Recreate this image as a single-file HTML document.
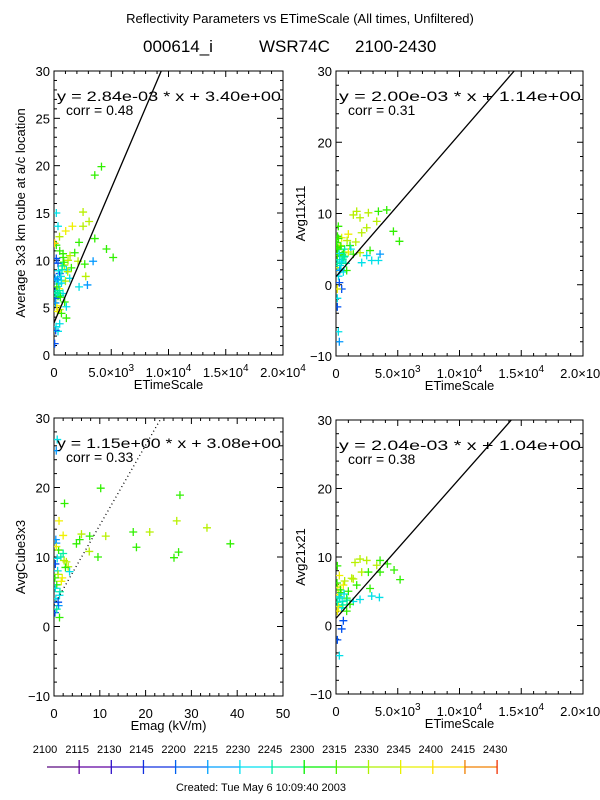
<!DOCTYPE html>
<html><head><meta charset="utf-8"><style>
html,body{margin:0;padding:0;background:#fff}
svg{display:block;font-family:"Liberation Sans",sans-serif}
</style></head><body>
<svg id="chart" width="600" height="800" viewBox="0 0 600 800">
<text x="300" y="23" text-anchor="middle" font-size="13">Reflectivity Parameters vs ETimeScale (All times, Unfiltered)</text>
<text x="143" y="52" font-size="17">000614_i</text>
<text x="259" y="52" font-size="17">WSR74C</text>
<text x="355" y="52" font-size="17">2100-2430</text>
<text x="261" y="791" text-anchor="middle" font-size="11">Created: Tue May  6 10:09:40 2003</text>
</svg>
<script>
// colour palette index: 0 blue,1 light-blue,2 cyan,3 teal-green,4 green,5 yellow-green,6 yellow,7 orange
const pointColors = ["#0050f0","#0098ff","#00e0e8","#00f0a0","#30f000","#b8f000","#f0f000","#ffc800"];
const timeLabels = ["2100","2115","2130","2145","2200","2215","2230","2245","2300","2315","2330","2345","2400","2415","2430"];
const timeColors = ["#5a0a80","#6000a0","#3010c8","#1030e0","#0060f0","#00a0ff","#00e0f0","#00f0a0","#00f000","#50f000","#b0f000","#e8f000","#ffe000","#f08000","#f03000"];

// Panel 1: ETimeScale vs Average 3x3
const p1x = [4146,3562,4584,5168,3562,3416,2920,2540,3066,2540,2190,1606,1022,788,1810,2102,2686,2774,2190,1372,1080,1080,496,350,204,350,204,58,350,496,204,350,788,58,146,496,934,1518,1080,642,1226,300,600,900,450,150,700,250,1200,400,800,100,550,1000,650,320,180,1400,850,500,100,250,450,650,120,380,560,720,200,90,300,480];
const p1y = [19.9,19.0,11.2,10.3,12.3,9.9,7.4,15.1,14.1,13.6,11.9,13.6,13.1,10.7,10.8,9.9,9.6,8.3,7.2,8.1,5.1,3.9,3.3,2.5,15.0,13.6,11.6,11.8,9.7,8.6,7.9,6.2,6.5,1.2,2.6,4.8,5.6,9.2,9.0,7.9,10.0,6.6,8.3,9.5,7.0,6.0,9.0,5.2,8.8,7.5,10.3,6.8,6.3,7.8,4.4,8.0,3.0,10.5,9.8,11.0,6.5,7.2,6.8,7.6,5.5,8.9,6.1,9.4,10.2,8.1,4.6,12.5];
const p1c = [4,4,4,4,4,1,1,5,5,5,4,6,6,4,4,5,4,5,2,2,2,4,2,2,2,2,4,7,0,0,2,4,2,0,0,6,4,4,2,2,5,3,2,5,6,0,3,6,5,2,4,0,3,5,4,1,2,5,4,4,3,4,3,2,1,2,4,3,0,1,6,5];

// Panel 2: ETimeScale vs Avg11x11
const p2x = [4108,3433,4649,5136,1676,1405,1946,2622,2487,2081,3298,2757,3433,2892,2081,3568,1946,1000,460,324,1135,189,108,324,595,865,270,460,108,108,189,270,108,108,595,1405,2487,54,700,300,900,500,1200,200,800,400,1600,650,150,1000,100,250,400,550,120,300,700,200,80,450];
const p2y = [10.5,10.3,7.5,6.1,10.3,9.8,9.4,10.1,8.0,7.3,8.9,4.8,3.4,3.4,3.1,4.3,4.5,7.1,6.6,5.5,5.5,8.2,4.1,2.7,1.8,2.0,0.3,-0.6,-1.9,-3.1,-6.6,-8.0,-0.6,2.4,4.5,4.3,4.1,5.9,5.0,3.5,6.2,4.2,5.0,6.5,3.0,2.2,6.0,3.9,5.2,4.6,3.0,4.4,5.4,3.6,6.8,2.0,4.0,1.2,5.0,3.2];
const p2c = [4,4,4,4,5,5,5,5,5,5,5,4,2,2,2,1,5,6,6,6,4,4,4,2,2,4,0,0,2,0,2,1,6,6,4,4,2,4,3,2,5,4,2,4,3,2,5,3,4,6,3,2,4,3,4,1,3,2,4,2];

// Panel 3: Emag vs AvgCube3x3
const p3x = [10.2,2.3,27.5,26.8,33.4,38.5,17.3,20.9,11.3,18.0,27.2,26.2,9.6,7.7,7.8,6.0,5.6,4.9,1.1,2.0,0.7,0.5,2.7,3.1,3.4,1.2,0.5,1.0,1.5,0.3,0.8,1.8,2.2,0.6,1.3,0.4,1.0,2.5,0.2,1.6,0.9,0.5,1.2,2.0,0.3,0.6,0.9,0.4,0.2,0.7];
const p3y = [19.9,17.7,18.9,15.2,14.2,11.9,13.6,13.6,13.0,11.4,10.7,9.9,10.0,10.8,13.0,13.3,12.5,11.9,15.2,13.1,26.9,25.3,9.3,8.6,7.9,1.3,12.0,11.0,10.0,9.0,8.0,7.0,9.5,6.0,5.0,4.0,3.0,8.5,2.0,6.5,7.5,11.5,4.5,10.5,5.5,2.5,3.5,12.5,7.0,9.8];
const p3c = [4,4,4,5,5,4,4,5,5,4,4,4,4,5,4,5,4,4,6,6,2,1,5,5,2,4,1,4,3,0,2,6,5,4,3,2,1,4,0,6,5,6,2,3,2,3,0,1,4,2];

// Panel 4: ETimeScale vs Avg21x21
const p4x = [5190,4703,4162,3568,3568,3298,2487,1946,1541,2081,2622,2757,3514,2892,1946,1405,865,1270,595,270,108,189,108,460,595,460,108,270,865,1676,1135,300,700,1000,500,200,1400,900,400,150,100,250,550,350,80,650];
const p4y = [6.7,8.1,9.0,7.8,9.5,8.8,9.5,9.7,9.2,7.8,7.8,5.4,4.1,4.3,3.8,3.5,4.0,6.9,5.9,7.3,8.7,4.5,2.1,2.6,0.7,-0.5,-2.1,-4.4,2.1,5.9,3.1,4.0,6.5,5.0,3.5,2.8,6.8,3.7,4.8,5.6,3.4,4.2,3.0,5.2,6.2,4.6];
const p4c = [4,4,4,4,4,5,5,5,5,5,4,4,2,2,2,2,4,5,6,6,4,6,6,2,0,0,0,2,4,4,4,3,5,4,2,6,5,3,4,6,3,2,3,4,4,2];

const fitSlopes = [2.84e-3, 2.00e-3, 1.15, 2.04e-3];
const fitIntercepts = [3.40, 1.14, 3.08, 1.04];
const fitLabels = ["y = 2.84e-03 * x  + 3.40e+00","y = 2.00e-03 * x  + 1.14e+00","y = 1.15e+00 * x  + 3.08e+00","y = 2.04e-03 * x  + 1.04e+00"];
const corrLabels = ["corr = 0.48","corr = 0.31","corr = 0.33","corr = 0.38"];
const etimeTicks = [0,5000,10000,15000,20000];
const emagTicks = [0,10,20,30,40,50];

const NS = "http://www.w3.org/2000/svg";
const svg = document.getElementById("chart");
function mk(tag, attrs, parent, text){
  const e = document.createElementNS(NS, tag);
  for (const k in attrs) e.setAttribute(k, attrs[k]);
  if (text !== undefined) e.textContent = text;
  (parent || svg).appendChild(e);
  return e;
}

const panels = [
  {L:54,R:283,T:71,B:355,xmax:20000,ymin:0,ymax:30,ymaj:5,ymin_:1,xmaj:5000,xmin_:1000,xs:p1x,ys:p1y,cs:p1c,ytitle:"Average 3x3 km cube at a/c location",ytx:20,xtitle:"ETimeScale",xt:etimeTicks,dotted:false,name:"avg3x3"},
  {L:336,R:583,T:71,B:356,xmax:20000,ymin:-10,ymax:30,ymaj:10,ymin_:2,xmaj:5000,xmin_:1000,xs:p2x,ys:p2y,cs:p2c,ytitle:"Avg11x11",ytx:300,xtitle:"ETimeScale",xt:etimeTicks,dotted:false,name:"avg11x11"},
  {L:54,R:283,T:418,B:696,xmax:50,ymin:-10,ymax:30,ymaj:10,ymin_:2,xmaj:10,xmin_:2,xs:p3x,ys:p3y,cs:p3c,ytitle:"AvgCube3x3",ytx:20,xtitle:"Emag (kV/m)",xt:emagTicks,dotted:true,name:"avgcube3x3"},
  {L:336,R:583,T:420,B:694,xmax:20000,ymin:-10,ymax:30,ymaj:10,ymin_:2,xmaj:5000,xmin_:1000,xs:p4x,ys:p4y,cs:p4c,ytitle:"Avg21x21",ytx:300,xtitle:"ETimeScale",xt:etimeTicks,dotted:false,name:"avg21x21"}
];

panels.forEach((p, pi) => {
  const g = mk("g", {});
  
  
  const sx = v => p.L + v / p.xmax * (p.R - p.L);
  const sy = v => p.B - (v - p.ymin) / (p.ymax - p.ymin) * (p.B - p.T);
  const frame = mk("rect", {x:p.L, y:p.T, width:p.R-p.L, height:p.B-p.T, fill:"none", stroke:"#000", "stroke-width":1}, g);
  
  
  for (let v = p.ymin; v <= p.ymax + 1e-9; v += p.ymin_) {
    const major = Math.abs(v % p.ymaj) < 1e-6;
    const len = major ? 6 : 3;
    const y = sy(v);
    mk("line", {x1:p.L, x2:p.L+len, y1:y, y2:y, stroke:"#000"}, g);
    mk("line", {x1:p.R, x2:p.R-len, y1:y, y2:y, stroke:"#000"}, g);
    if (major) {
      const t = mk("text", {x:p.L-4, y:y+5, "text-anchor":"end", "font-size":13}, g, String(Math.round(v)).replace("-","\u2212"));
      
      
    }
  }
  for (let v = 0; v <= p.xmax + 1e-9; v += p.xmin_) {
    const major = Math.abs(v % p.xmaj) < 1e-6;
    const len = major ? 6 : 3;
    const x = sx(v);
    mk("line", {x1:x, x2:x, y1:p.B, y2:p.B-len, stroke:"#000"}, g);
    mk("line", {x1:x, x2:x, y1:p.T, y2:p.T+len, stroke:"#000"}, g);
  }
  p.xt.forEach(v => {
    const x = sx(v);
    const t = mk("text", {x:x, y:p.B+22, "text-anchor":"middle", "font-size":13}, g);
    
    
    if (p.xmax === 50 || v === 0) { t.textContent = String(v); }
    else {
      const e = Math.floor(Math.log10(v)); const m = (v / Math.pow(10, e)).toFixed(1);
      mk("tspan", {}, t, m + "\u00d710");
      mk("tspan", {dy:-6, "font-size":10}, t, String(e));
    }
  });
  const xt = mk("text", {x:(p.L+p.R)/2, y:p.B+34, "text-anchor":"middle", "font-size":13}, g, p.xtitle);
  
  
  const cy = (p.T+p.B)/2;
  const yt = mk("text", {x:p.ytx, y:cy, "text-anchor":"middle", "font-size":13, transform:`rotate(-90 ${p.ytx} ${cy})`, dy:5}, g, p.ytitle);
  
  
  const clip = mk("clipPath", {id:"clip"+pi}, g);
  mk("rect", {x:p.L, y:p.T, width:p.R-p.L, height:p.B-p.T}, clip);
  const pg = mk("g", {"clip-path":`url(#clip${pi})`}, g);
  p.xs.forEach((xv, i) => {
    const x = sx(xv), y = sy(p.ys[i]);
    const m = mk("path", {d:`M${x-4} ${y}H${x+4}M${x} ${y-4}V${y+4}`, stroke:pointColors[p.cs[i]], "stroke-width":1.3, fill:"none"}, pg);
    
    
  });
  const s = fitSlopes[pi], b = fitIntercepts[pi];
  let x2 = p.xmax; if (s*x2 + b > p.ymax) x2 = (p.ymax - b) / s;
  const fl = mk("line", {x1:sx(0), y1:sy(b), x2:sx(x2), y2:sy(s*x2+b), stroke:"#000", "stroke-width":1.3, "stroke-dasharray":p.dotted?"1 3":"none"}, pg);
  
  
  const ft = mk("text", {x:p.L+3, y:p.T+30, "font-size":14, textLength:p.R-p.L-5, lengthAdjust:"spacingAndGlyphs"}, g, fitLabels[pi]);
  
  
  const ct = mk("text", {x:p.L+12, y:p.T+44, "font-size":14}, g, corrLabels[pi]);
  
  
});

const cbL = 47, cbStep = 32.15, cbY = 767;
const cb = mk("g", {});


timeLabels.forEach((lab, i) => {
  const x = cbL + i * cbStep;
  if (i > 0) {
    mk("line", {x1:x-cbStep, x2:x, y1:cbY, y2:cbY, stroke:timeColors[i-1], "stroke-width":1.3}, cb);
    mk("line", {x1:x, x2:x, y1:cbY-7, y2:cbY+7, stroke:timeColors[i], "stroke-width":1.3}, cb);
  }
  const t = mk("text", {x:x-2, y:753, "text-anchor":"middle", "font-size":11}, cb, lab);
  
  
});
</script>
</body></html>
